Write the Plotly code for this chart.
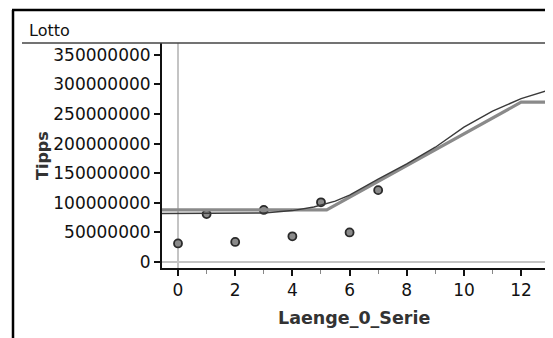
import plotly.graph_objects as go

# Data
obs_x = [0, 1, 2, 3, 4, 5, 6, 7]
obs_y = [31.5e6, 81e6, 34e6, 88e6, 43.5e6, 101e6, 50e6, 121.5e6]

fit_x = [-0.56, 5.2, 12, 12.87]
fit_y = [88e6, 88e6, 270e6, 270e6]

smooth_x = [-0.56, 3, 4, 4.75, 5.5, 6, 7, 8, 9, 10, 11, 12, 12.87]
smooth_y = [82e6, 83e6, 87e6, 93e6, 103e6, 113e6, 140e6, 166e6, 194e6, 228e6, 255e6, 276e6, 289e6]

y_ticks = [0, 50e6, 100e6, 150e6, 200e6, 250e6, 300e6, 350e6]
y_tick_labels = ["0", "50000000", "100000000", "150000000", "200000000",
                 "250000000", "300000000", "350000000"]
x_ticks = [0, 2, 4, 6, 8, 10, 12]

# the page body has an 8px default margin; lay out in page pixels
OFF = 8
W, H = 553 - OFF, 338 - OFF
L, R, T, B = 162, 546, 43, 268  # page pixel positions of plot area


def px(x):
    return (x - L) / (R - L)


def py(y):
    return (B - y) / (B - T)


FONT = "DejaVu Sans, Arial, sans-serif"

fig = go.Figure()
fig.add_trace(go.Scatter(x=obs_x, y=obs_y, mode="markers",
                         marker=dict(symbol="circle", size=8, color="#8a8a8a",
                                     line=dict(color="#2a2a2a", width=1.8))))
fig.add_trace(go.Scatter(x=fit_x, y=fit_y, mode="lines",
                         line=dict(color="#8a8a8a", width=3.2), hoverinfo="skip"))
fig.add_trace(go.Scatter(x=smooth_x, y=smooth_y, mode="lines",
                         line=dict(color="#3a3a3a", width=1.4), hoverinfo="skip"))

fig.update_layout(
    template="none",
    width=W, height=H,
    margin=dict(l=L - OFF, r=(W + OFF) - R, t=T - OFF, b=(H + OFF) - B, pad=0),
    paper_bgcolor="white", plot_bgcolor="white",
    showlegend=False,
    font=dict(family=FONT, size=15, color="#111111"),
    xaxis=dict(range=[-0.56, 12.87], tickvals=x_ticks, ticks="outside", ticklen=6,
               tickwidth=1.5, tickcolor="#111111", showgrid=False, automargin=False,
               zeroline=True, zerolinecolor="#c4c4c4", zerolinewidth=2,
               showline=True, linecolor="#111111", linewidth=2,
               minor=dict(ticks="outside", dtick=1, tick0=1, ticklen=4,
                          tickcolor="#888888", tickwidth=1.2),
               tickfont=dict(size=17, family=FONT, color="#111111")),
    yaxis=dict(range=[-10e6, 370e6], tickvals=y_ticks, ticktext=y_tick_labels,
               ticks="outside", ticklen=6, tickwidth=1.5, tickcolor="#111111",
               showgrid=False, automargin=False,
               zeroline=True, zerolinecolor="#c4c4c4", zerolinewidth=2,
               showline=True, linecolor="#111111", linewidth=2,
               tickfont=dict(size=17, family=FONT, color="#111111")),
)

shapes = [
    # outer frame
    dict(type="line", xref="paper", yref="paper", x0=px(13), x1=px(13), y0=py(10), y1=py(340),
         line=dict(color="black", width=2.5)),
    dict(type="line", xref="paper", yref="paper", x0=px(12), x1=px(556), y0=py(10), y1=py(10),
         line=dict(color="black", width=2.5)),
    # title separator / plot top
    dict(type="line", xref="paper", yref="paper", x0=px(22), x1=px(546), y0=1, y1=1,
         line=dict(color="#444444", width=1.4)),
    # plot right border
    dict(type="line", xref="paper", yref="paper", x0=1, x1=1, y0=0, y1=1,
         line=dict(color="#222222", width=1.6)),
]
fig.update_layout(shapes=shapes)

fig.add_annotation(text="Lotto", xref="paper", yref="paper", x=px(27), y=py(30),
                   xanchor="left", yanchor="middle", showarrow=False,
                   font=dict(size=16, family=FONT, color="#111111"))
fig.add_annotation(text="<b>Tipps</b>", xref="paper", yref="paper", x=px(42), y=py(156),
                   xanchor="center", yanchor="middle", textangle=-90, showarrow=False,
                   font=dict(size=16, family=FONT, color="#333333"))
fig.add_annotation(text="<b>Laenge_0_Serie</b>", xref="paper", yref="paper", x=px(354), y=py(318),
                   xanchor="center", yanchor="middle", showarrow=False,
                   font=dict(size=17.5, family=FONT, color="#333333"))

fig.write_html("out.html")
